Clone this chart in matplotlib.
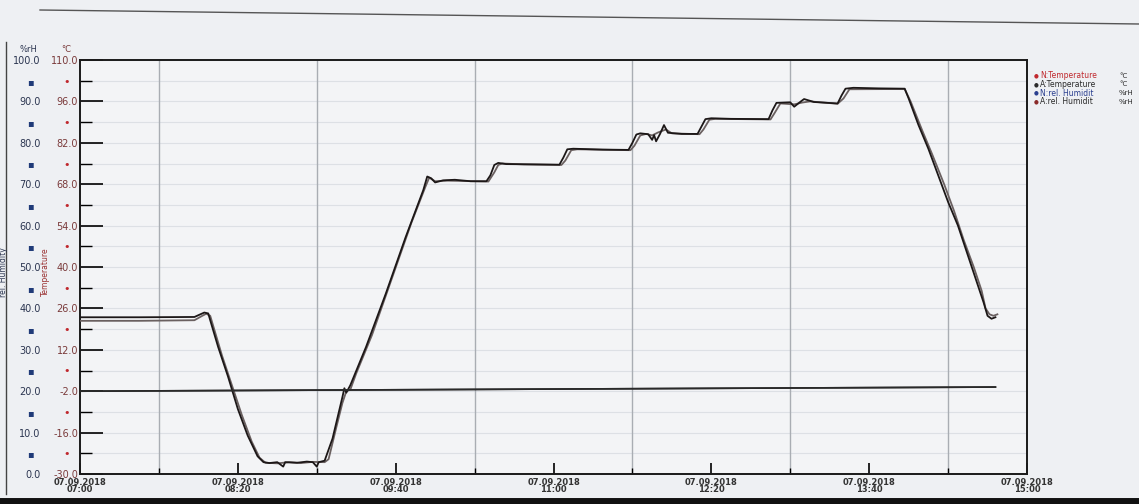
import matplotlib
matplotlib.use("Agg")
import matplotlib.pyplot as plt
from matplotlib.lines import Line2D
import numpy as np

# ---------------- data (minutes after 07:00) ----------------
n_temp_t = [0, 30, 58, 61, 63, 65, 66, 70, 75, 80, 85, 90, 93, 96, 100, 103, 104, 110, 115, 118,
            120, 121, 124, 128, 133, 134, 135, 137, 145, 155, 165, 174, 176, 178, 180, 184, 190,
            198, 206, 208, 210, 212, 216, 230, 243, 245, 247, 250, 265, 278, 280, 282, 284, 288,
            290, 291, 292, 294, 296, 298, 305, 313, 315, 317, 320, 330, 349, 351, 353, 360, 362,
            365, 367, 372, 384, 386, 388, 392, 405, 418, 420, 425, 430, 435, 440, 445, 450, 455,
            458, 460, 462, 464]
n_temp_v = [23.0, 23.0, 23.1, 24.0, 24.6, 24.3, 22.0, 13, 3, -8, -17, -24, -26, -26.3, -26.0, -27.5,
            -26, -26.2, -25.8, -26, -27.5, -26, -25.5, -18, -4, -1, -2.5, 0, 13, 31, 50, 66, 70.6,
            70.0, 68.6, 69.3, 69.5, 69.0, 69.0, 71, 74.5, 75.2, 74.8, 74.7, 74.6, 77, 79.8, 80.0,
            79.7, 79.6, 82, 84.8, 85.2, 84.9, 83, 84.6, 82.5, 85, 88, 85.4, 85, 85, 87.5, 90,
            90.3, 90.1, 90, 93, 95.5, 95.7, 94.2, 95.8, 96.8, 95.8, 95.3, 98, 100.3, 100.6, 100.4,
            100.3, 97, 88, 80, 71, 62, 54, 44, 34, 28, 23.5, 22.5, 23.0]

a_temp_t = [0, 30, 58, 62, 64, 66, 68, 72, 77, 82, 87, 91, 94, 100, 106, 112, 118, 124, 126, 130,
            133, 135, 137, 140, 148, 158, 168, 175, 177, 180, 186, 200, 207, 210, 212, 214, 225,
            244, 246, 249, 252, 279, 281, 284, 287, 290, 293, 297, 300, 314, 316, 319, 322, 350,
            352, 355, 362, 366, 370, 384, 387, 390, 418, 421, 427, 432, 438, 443, 448, 453, 457,
            459, 461, 463, 465]
a_temp_v = [21.8, 21.8, 22.0, 23.5, 24.2, 23.5, 19, 10, 0, -10, -19, -24.5, -26.2, -26.4, -26.0,
            -26.3, -25.9, -26.0, -25, -14, -6, -2, -1.5, 4, 17, 36, 55, 67, 70.2, 69.0, 69.2, 69.0,
            68.9, 72, 74.5, 75, 74.7, 74.5, 76, 79.5, 79.8, 79.5, 81, 84.5, 85, 84.5, 85.5, 86.5,
            85.2, 84.9, 86.5, 89.8, 90.1, 89.9, 92, 95.3, 95, 95.6, 96, 95.2, 97, 100.1, 100.2, 96,
            86, 78, 68, 59, 49, 40, 32, 26, 24, 23.5, 24.0]

n_hum_t = [0, 464]
n_hum_v = [20.0, 21.0]
a_hum_t = [0, 464]
a_hum_v = [20.0, 21.0]

x_ticks = [0, 80, 160, 240, 320, 400, 480]
x_labels = ["07.09.2018\n07:00", "07.09.2018\n08:20", "07.09.2018\n09:40", "07.09.2018\n11:00",
            "07.09.2018\n12:20", "07.09.2018\n13:40", "07.09.2018\n15:00"]
temp_ticks = [-30, -16, -2, 12, 26, 40, 54, 68, 82, 96, 110]
hum_ticks = [0, 10, 20, 30, 40, 50, 60, 70, 80, 90, 100]

legend_names = ["N:Temperature", "A:Temperature", "N:rel. Humidit", "A:rel. Humidit"]
legend_units = ["°C", "°C", "%rH", "%rH"]

# ---------------- figure ----------------
W, H = 1139, 504
PT = 0.72  # points per pixel at dpi 100
bg = "#eef0f3"
fig = plt.figure(figsize=(W / 100, H / 100), dpi=100, facecolor=bg)
L, R, T, B = 80, 1027, 60, 474
ax = fig.add_axes([L / W, 1 - B / H, (R - L) / W, (B - T) / H])
ax.set_facecolor("#f3f4f6")

temp_col = "#7a3a3a"
hum_col = "#2b3550"

ax.set_xlim(0, 480)
ax.set_ylim(-30, 110)

# grid
minor_x = [40, 120, 200, 280, 360, 440]
for mx in minor_x:
    ax.axvline(mx, color="#a9adb3", lw=1.0, zorder=1)
for yy in np.arange(-30, 111, 7):
    ax.axhline(yy, color="#dde0e5", lw=0.8, zorder=0.5)

# lines
ax.plot(a_temp_t, a_temp_v, color="#6a6060", lw=1.3, zorder=3)
ax.plot(n_temp_t, n_temp_v, color="#1c1717", lw=1.3, zorder=4)

ax.set_xticks(x_ticks)
ax.set_xticklabels(x_labels, fontsize=6, fontweight="bold", color="#333333", linespacing=0.75)
ax.set_xticks(minor_x, minor=True)
ax.tick_params(axis="x", which="major", direction="in", length=11 * PT, width=1.2, pad=4 * PT)
ax.tick_params(axis="x", which="minor", direction="in", length=6 * PT, width=1.0)

ax.set_yticks(temp_ticks)
ax.set_yticklabels([f"{v:.1f}" for v in temp_ticks], fontsize=7, color=temp_col)
ax.set_yticks([t + 7 for t in temp_ticks[:-1]], minor=True)
ax.set_yticklabels(["•"] * 10, minor=True, fontsize=8, color="#c0282d")
ax.tick_params(axis="y", which="major", direction="in", length=23 * PT, width=1.2, pad=2 * PT)
ax.tick_params(axis="y", which="minor", direction="in", length=12 * PT, width=1.0, pad=10 * PT)
for s in ax.spines.values():
    s.set_linewidth(1.4)
    s.set_color("#1a1a1a")

# humidity axis on the far left
ax2 = ax.twinx()
ax2.set_ylim(0, 100)
ax2.yaxis.set_ticks_position("left")
ax2.spines["left"].set_position(("outward", 38 * PT))
for s in ax2.spines.values():
    s.set_visible(False)
ax2.set_yticks(hum_ticks)
ax2.set_yticklabels([f"{v:.1f}" for v in hum_ticks], fontsize=7, color=hum_col)
ax2.set_yticks([h + 5 for h in hum_ticks[:-1]], minor=True)
ax2.set_yticklabels(["▪"] * 10, minor=True, fontsize=7, color="#1f3a78")
ax2.tick_params(axis="y", which="both", length=0, pad=1)
ax2.tick_params(axis="y", which="minor", pad=8 * PT)
ax2.plot(a_hum_t, a_hum_v, color="#2a2a2a", lw=1.2, zorder=2)
ax2.plot(n_hum_t, n_hum_v, color="#2a2a2a", lw=1.2, zorder=2)

# unit / axis labels
def px(x, y):
    return x / W, 1 - y / H

fig.text(*px(28, 50), "%rH", fontsize=6, color=hum_col, ha="center", va="center")
fig.text(*px(66, 50), "°C", fontsize=6, color=temp_col, ha="center", va="center")
fig.text(*px(4, 272), "rel. Humidity", fontsize=5.5, color=hum_col, rotation=90, ha="center", va="center")
fig.text(*px(45, 272), "Temperature", fontsize=5.5, color="#9a3030", rotation=90, ha="center", va="center")

# legend
leg_cols = ["#c0282d", "#2b2b2b", "#2a3f8f", "#8a2a2a"]
leg_txt_cols = ["#c0282d", "#2b2b2b", "#2a3f8f", "#2b2b2b"]
for i, (nm, un) in enumerate(zip(legend_names, legend_units)):
    y = 76 + i * 8.5
    fig.text(*px(1034, y), "●", fontsize=4, color=leg_cols[i], ha="left", va="center")
    fig.text(*px(1040, y), nm, fontsize=5.5, color=leg_txt_cols[i], ha="left", va="center")
    fig.text(*px(1119, y), un, fontsize=5, color="#2b2b2b", ha="left", va="center")

# scan page frame
fig.add_artist(Line2D([6 / W, 6 / W], [1 - 494 / H, 1 - 42 / H], transform=fig.transFigure,
                      color="#444444", lw=1.0))
fig.add_artist(Line2D([0, 1], [1 - 501 / H, 1 - 501 / H], transform=fig.transFigure,
                      color="#111111", lw=5))
fig.add_artist(Line2D([40 / W, 1], [1 - 10 / H, 1 - 24 / H], transform=fig.transFigure,
                      color="#555555", lw=1.0))

fig.savefig("out.png", dpi=100, facecolor=bg)
